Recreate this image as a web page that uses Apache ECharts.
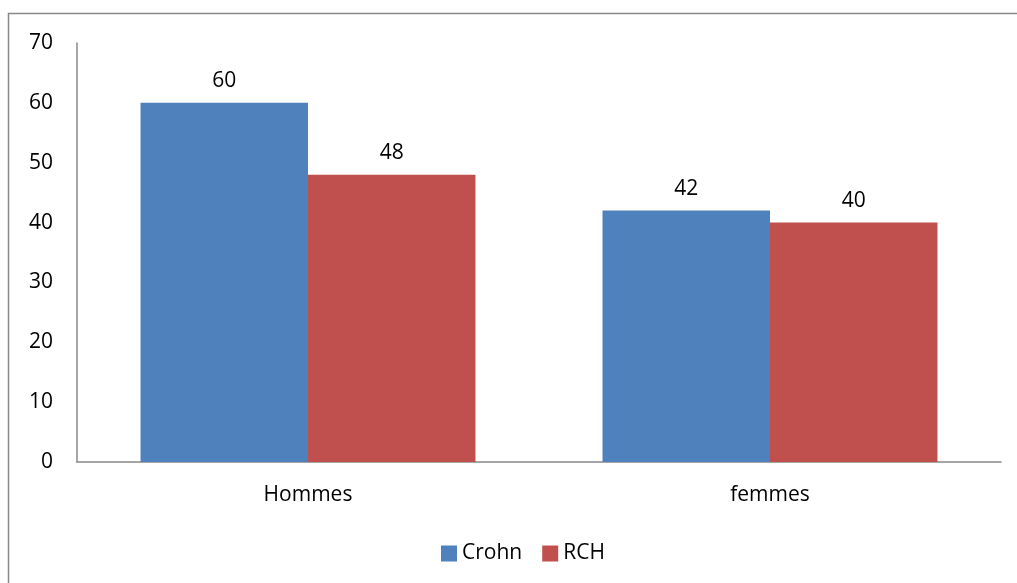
<!DOCTYPE html>
<html><head><meta charset="utf-8">
<script src="https://cdn.jsdelivr.net/npm/echarts@6/dist/echarts.min.js"></script>
<style>html,body{margin:0;padding:0;background:#fff}#c{width:1017px;height:583px}</style>
</head><body><div id="c"></div>
<script>
const categories = ['Hommes', 'femmes'];
const crohn = [60, 42];
const rch = [48, 40];
const yTicks = { min: 0, max: 70, interval: 10 };

const chart = echarts.init(document.getElementById('c'));
const font = '"Open Sans", "Liberation Sans", sans-serif';
chart.setOption({
  animation: false,
  graphic: [{ type: 'rect', shape: { x: 8.5, y: 13.5, width: 1100, height: 700 }, style: { fill: 'none', stroke: '#888', lineWidth: 1.5 } }],
  grid: { left: 77, right: 16, top: 43, bottom: 121 },
  legend: {
    bottom: 14, left: 436, itemWidth: 16, itemHeight: 16, itemGap: 20, icon: 'rect',
    textStyle: { fontFamily: font, fontSize: 21, color: '#000' },
    data: ['Crohn', 'RCH']
  },
  xAxis: {
    type: 'category', data: categories,
    axisLine: { lineStyle: { color: '#888', width: 1.5 } },
    axisTick: { show: false },
    axisLabel: { fontFamily: font, fontSize: 21, color: '#000', margin: 23 }
  },
  yAxis: {
    type: 'value', min: yTicks.min, max: yTicks.max, interval: yTicks.interval,
    axisLine: { show: true, lineStyle: { color: '#888', width: 1.5 } },
    axisTick: { show: false },
    splitLine: { show: false },
    axisLabel: { fontFamily: font, fontSize: 21, color: '#000', margin: 24 }
  },
  series: [
    { name: 'Crohn', type: 'bar', data: crohn, barGap: '0%', barCategoryGap: '27.5%',
      itemStyle: { color: '#4F81BD' },
      label: { show: true, position: 'top', distance: 11, fontFamily: font, fontSize: 21, color: '#000' } },
    { name: 'RCH', type: 'bar', data: rch,
      itemStyle: { color: '#C0504D' },
      label: { show: true, position: 'top', distance: 11, fontFamily: font, fontSize: 21, color: '#000' } }
  ]
});
</script></body></html>
